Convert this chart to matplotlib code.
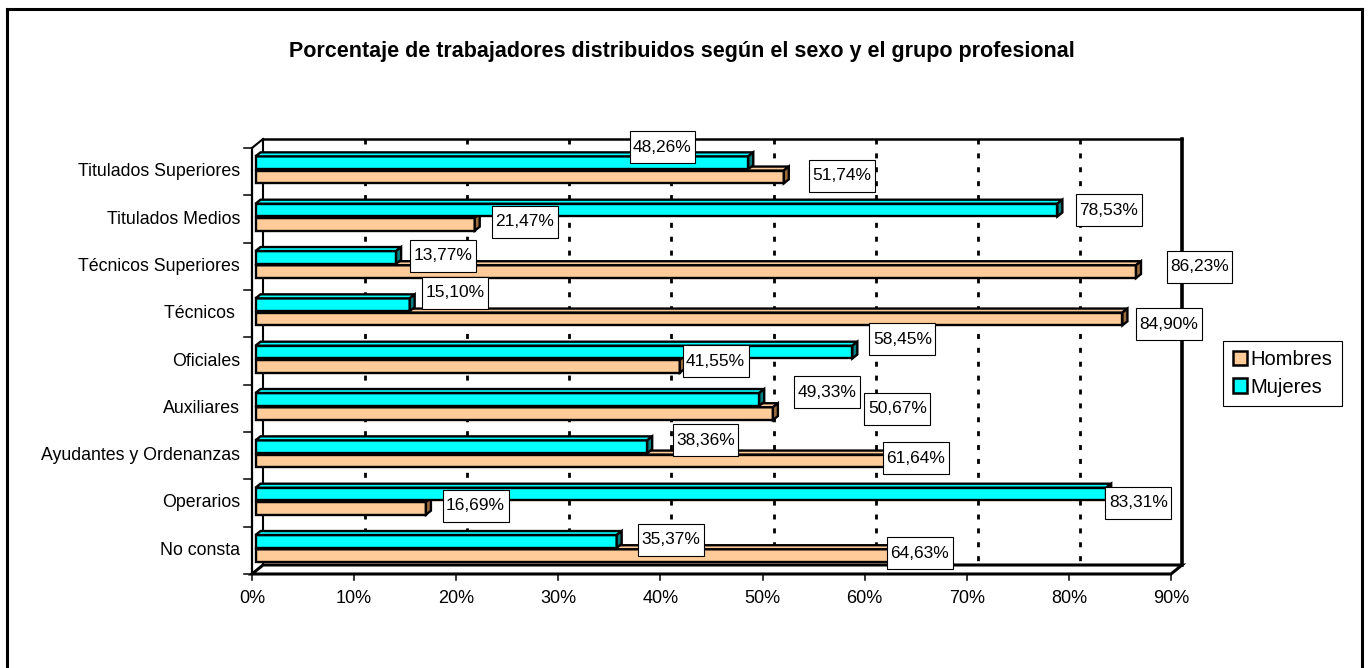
import matplotlib
matplotlib.use("Agg")
import matplotlib.pyplot as plt
from matplotlib.patches import Polygon, Patch
from matplotlib.lines import Line2D
from matplotlib.path import Path

plt.rcParams['font.family'] = ['Liberation Sans', 'DejaVu Sans']

# ---------------- data ----------------
title = "Porcentaje de trabajadores distribuidos según el sexo y el grupo profesional"
categories = ['Titulados Superiores', 'Titulados Medios', 'Técnicos Superiores', 'Técnicos ',
              'Oficiales', 'Auxiliares', 'Ayudantes y Ordenanzas', 'Operarios', 'No consta']
hombres = [51.74, 21.47, 86.23, 84.90, 41.55, 50.67, 61.64, 16.69, 64.63]
mujeres = [48.26, 78.53, 13.77, 15.10, 58.45, 49.33, 38.36, 83.31, 35.37]
series_names = ['Hombres', 'Mujeres']
x_ticks = [0, 10, 20, 30, 40, 50, 60, 70, 80, 90]

# label anchor positions (x in %, y in row units) as placed in the reference
label_pos_mujeres = [(40.2, -0.52), (83.9, 0.81), (18.7, 1.78), (19.9, 2.56), (63.7, 3.54),
                     (56.3, 4.66), (44.4, 5.67), (86.8, 7.0), (41.0, 7.78)]
label_pos_hombres = [(57.8, 0.09), (26.7, 1.06), (92.8, 2.01), (89.8, 3.22), (45.4, 4.0),
                     (63.2, 5.01), (65.0, 6.05), (21.9, 7.06), (65.4, 8.06)]

# ---------------- style ----------------
C_H, C_H_SIDE = '#FFCC99', '#9C6B3E'
C_M, C_M_SIDE = '#00FFFF', '#008080'

W, Hpx = 1369, 668
fig = plt.figure(figsize=(W / 100, Hpx / 100), dpi=100)
x0, x1, yt, yb = 252, 1171, 148, 574
ax = fig.add_axes([x0 / W, 1 - yb / Hpx, (x1 - x0) / W, (yb - yt) / Hpx])
n = len(categories)
ax.set_xlim(0, 90)
ax.set_ylim(n - 0.5, -0.5)
ax.axis('off')

pxx = (x1 - x0) / 90.0
pxy = (yb - yt) / n
WX, WY = 11 / pxx, -9 / pxy       # wall depth offset
FX, FY = 3.5 / pxx, -3 / pxy      # bar front offset
DX, DY = 5 / pxx, -4 / pxy        # bar depth
BH = 0.27
top_r, bot_r = -0.5, n - 0.5
BLW = 1.7

kw = dict(color='black', clip_on=False, solid_capstyle='projecting')
# back wall
ax.add_patch(Polygon([(WX, top_r + WY), (90 + WX, top_r + WY), (90 + WX, bot_r + WY), (WX, bot_r + WY)],
                     closed=True, fc='white', ec='none', zorder=0, clip_on=False))
ax.plot([WX, 90 + WX], [top_r + WY, top_r + WY], lw=1.8, zorder=1, **kw)
ax.plot([90 + WX, 90 + WX], [top_r + WY, bot_r + WY], lw=2.6, zorder=1, **kw)
ax.plot([WX, WX], [top_r + WY, bot_r + WY], lw=1.5, zorder=1, **kw)
# gridlines on back wall
for t in x_ticks[1:-1]:
    ax.plot([t + WX, t + WX], [top_r + WY, bot_r + WY], color='black', lw=2.0,
            linestyle=(0, (1.8, 3.2)), zorder=1, clip_on=False)
# floor
ax.add_patch(Polygon([(0, bot_r), (90, bot_r), (90 + WX, bot_r + WY), (WX, bot_r + WY)],
                     closed=True, fc='white', ec='black', lw=2.2, zorder=2, clip_on=False))
# left wall edges
ax.plot([0, 0], [top_r, bot_r], lw=1.6, zorder=2, **kw)
ax.plot([0, WX], [top_r, top_r + WY], lw=1.5, zorder=2, **kw)
# category ticks
for k in range(n + 1):
    ax.plot([-0.75, 0], [top_r + k, top_r + k], lw=1.1, zorder=2, color='black', clip_on=False)
# x ticks and labels
for t in x_ticks:
    ax.plot([t, t], [bot_r, bot_r + 0.13], lw=1.1, zorder=2, color='black', clip_on=False)
    ax.text(t, bot_r + 0.52, f'{t}%', ha='center', va='center', fontsize=13)
# category labels
for i, c in enumerate(categories):
    ax.text(-1.18, i, c, ha='right', va='center', fontsize=12.8)


def bar3d(y_c, v, col, side, z):
    y_front = y_c + FY
    ax.barh(y_front, v, left=FX, height=BH, color=col, edgecolor='black', linewidth=BLW,
            zorder=z, clip_on=False)
    top = y_front - BH / 2
    bot = y_front + BH / 2
    ax.add_patch(Polygon([(FX, top), (FX + v, top), (FX + v + DX, top + DY), (FX + DX, top + DY)],
                         closed=True, fc=col, ec='black', lw=BLW, zorder=z, clip_on=False,
                         joinstyle='miter'))
    ax.add_patch(Polygon([(FX + v, top), (FX + v + DX, top + DY), (FX + v + DX, bot + DY), (FX + v, bot)],
                         closed=True, fc=side, ec='black', lw=BLW, zorder=z, clip_on=False,
                         joinstyle='miter'))


for i in range(n):
    bar3d(i + 0.175, hombres[i], C_H, C_H_SIDE, 3 + i * 0.1)
    bar3d(i - 0.125, mujeres[i], C_M, C_M_SIDE, 3.05 + i * 0.1)


def fmt(v):
    return f'{v:.2f}'.replace('.', ',') + '%'


def label_box(x0, y0, width, height, mutation_size):
    px, py = 0.2 * mutation_size, 0.5 * mutation_size
    xa, ya = x0 - px, y0 - py
    xb, yb2 = x0 + width + px, y0 + height + py
    return Path([(xa, ya), (xb, ya), (xb, yb2), (xa, yb2), (xa, ya)],
                [Path.MOVETO, Path.LINETO, Path.LINETO, Path.LINETO, Path.CLOSEPOLY])


box = dict(boxstyle=label_box, fc='white', ec='black', lw=0.8)
for vals, pos in ((mujeres, label_pos_mujeres), (hombres, label_pos_hombres)):
    for v, (lx, ly) in zip(vals, pos):
        ax.text(lx, ly, fmt(v), ha='center', va='center', fontsize=12.5, bbox=box, zorder=10,
                clip_on=False)

# title
fig.text(682 / W, 1 - 52 / Hpx, title, ha='center', va='center', fontsize=15.5, fontweight='bold')

# legend
handles = [Patch(fc=C_H, ec='black', lw=1.8), Patch(fc=C_M, ec='black', lw=1.8)]
leg = fig.legend(handles, series_names, loc='center',
                 bbox_to_anchor=((1221 + 1344) / 2 / W, 1 - (340 + 407) / 2 / Hpx),
                 fontsize=14.5, fancybox=False, framealpha=1, edgecolor='black',
                 handlelength=0.7, handleheight=0.7, handletextpad=0.2, labelspacing=0.4,
                 borderpad=0.45, borderaxespad=0)
leg.get_frame().set_linewidth(0.8)

# outer chart border (bottom edge lies outside the image)
fig.add_artist(Line2D([7 / W, 7 / W], [0, 1 - 9 / Hpx], transform=fig.transFigure, color='black', lw=2.2))
fig.add_artist(Line2D([7 / W, 1362 / W], [1 - 9 / Hpx, 1 - 9 / Hpx], transform=fig.transFigure, color='black', lw=2.2))
fig.add_artist(Line2D([1362 / W, 1362 / W], [0, 1 - 9 / Hpx], transform=fig.transFigure, color='black', lw=2.2))

fig.savefig('out.png', dpi=100, facecolor='white')
